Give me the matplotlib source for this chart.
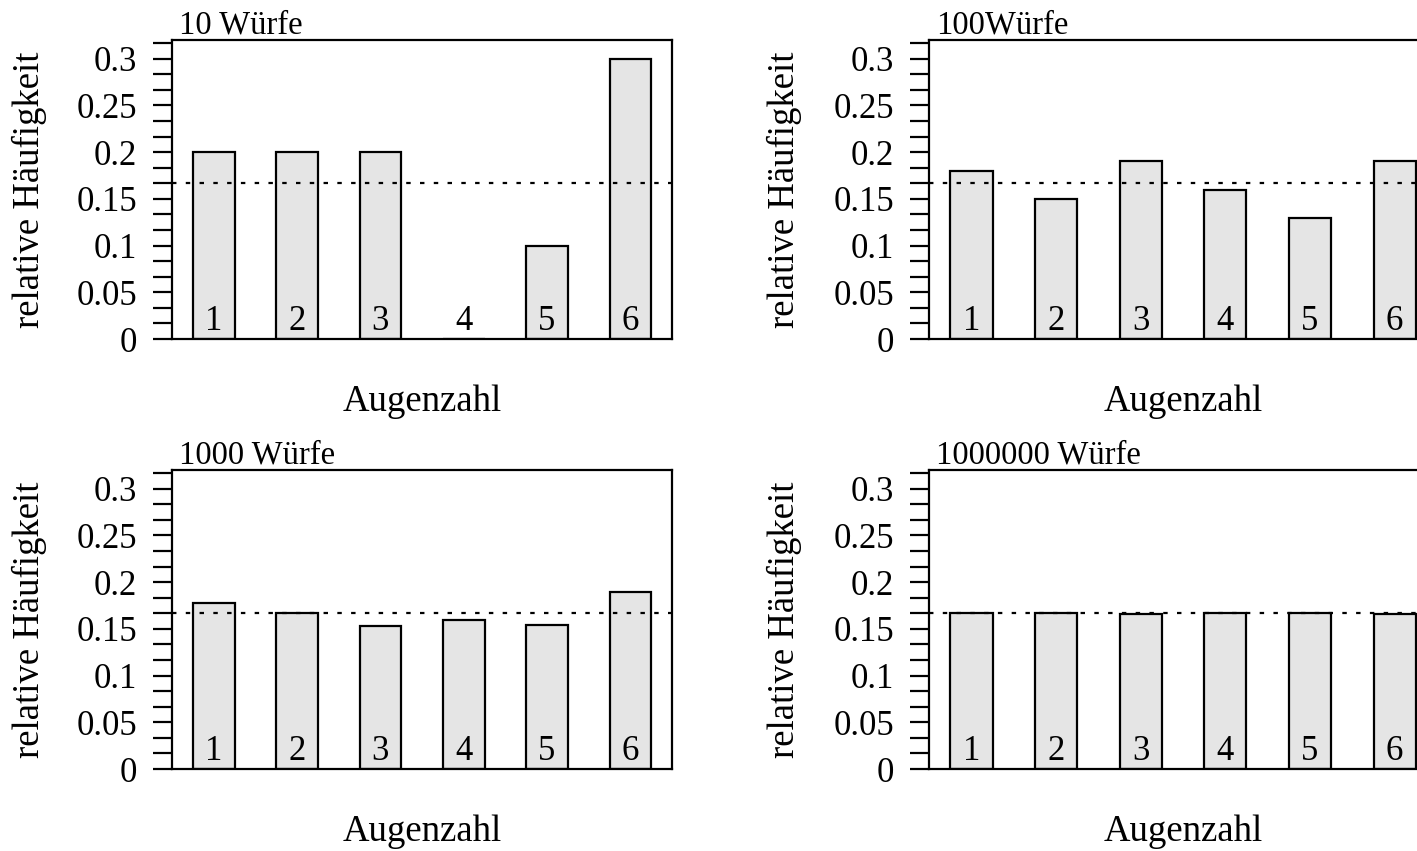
import numpy as np
import matplotlib
matplotlib.use("Agg")
import matplotlib.pyplot as plt

plt.rcParams['font.family'] = ['Liberation Serif', 'DejaVu Serif']

# data
augen = [1, 2, 3, 4, 5, 6]
titles = ['10 Würfe', '100Würfe', '1000 Würfe', '1000000 Würfe']
h10 = [0.2, 0.2, 0.2, 0.0, 0.1, 0.3]
h100 = [0.18, 0.15, 0.19, 0.16, 0.13, 0.19]
h1000 = [0.178, 0.167, 0.153, 0.159, 0.154, 0.189]
h1000000 = [0.1666, 0.1667, 0.1663, 0.1668, 0.1672, 0.1664]
erwartung = 1 / 6
yticks = [0, 0.05, 0.1, 0.15, 0.2, 0.25, 0.3]
yticklabels = ['0', '0.05', '0.1', '0.15', '0.2', '0.25', '0.3']

W, H = 1417, 851
fig = plt.figure(figsize=(W / 100, H / 100), dpi=100)

# axes boxes in pixels: left, top, right, bottom
boxes = [(172, 40, 672, 339), (929, 40, 1437, 339),
         (172, 470, 672, 769), (929, 470, 1437, 769)]
daten = [h10, h100, h1000, h1000000]

lw = 1.6
for (l, t, r, b), werte, titel in zip(boxes, daten, titles):
    ax = fig.add_axes([l / W, (H - b) / H, (r - l) / W, (b - t) / H])
    ax.bar(augen, werte, width=0.5, color='#e5e5e5', edgecolor='black',
           linewidth=lw, zorder=2)
    ax.axhline(erwartung, color='black', lw=lw, ls=(0, (2, 4.2)), zorder=3)
    for x in augen:
        ax.text(x, 0.0095, str(x), ha='center', va='baseline', fontsize=25,
                zorder=4)
    ax.set_xlim(0.5, 6.5)
    ax.set_ylim(0, 0.32)
    ax.set_xticks([])
    ax.set_yticks(yticks)
    ax.set_yticklabels(yticklabels)
    ax.set_yticks(np.arange(0, 0.32, 0.05 / 3), minor=True)
    ax.tick_params(axis='y', which='both', length=14, width=lw, pad=11,
                   labelsize=25, direction='out')
    for s in ax.spines.values():
        s.set_linewidth(lw)
    ax.set_ylabel('relative Häufigkeit', fontsize=26.5)
    ax.yaxis.set_label_coords(-0.25, 0.5)
    ax.set_xlabel('Augenzahl', fontsize=26.5)
    ax.xaxis.set_label_coords(0.5, -0.153)
    ax.annotate(titel, xy=(0, 1), xycoords='axes fraction',
                xytext=(5, 5), textcoords='offset points',
                ha='left', va='baseline', fontsize=23.5)

fig.savefig('out.png', dpi=100)
